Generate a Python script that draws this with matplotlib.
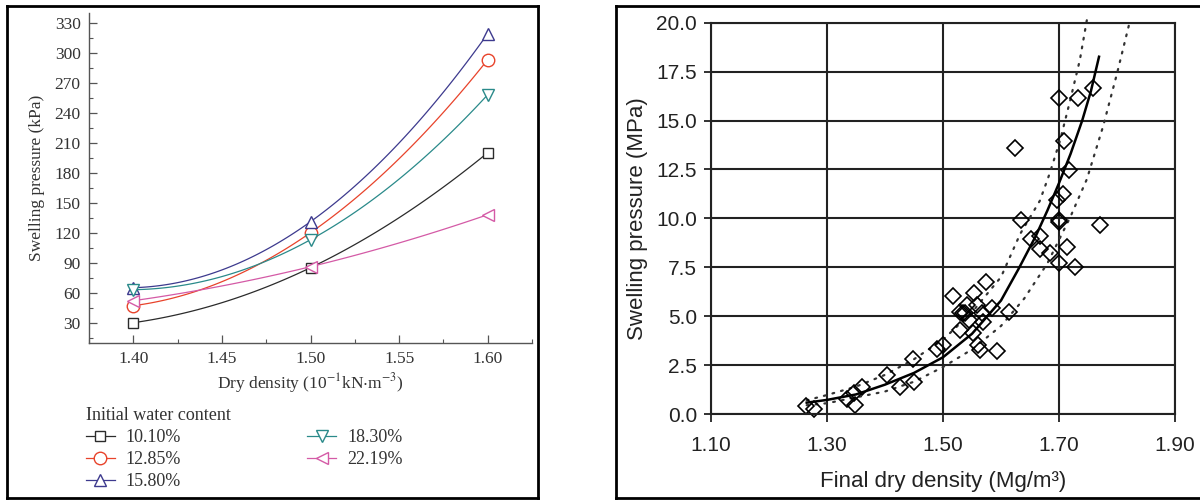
import numpy as np
import matplotlib
matplotlib.use("Agg")
import matplotlib.pyplot as plt
from matplotlib.lines import Line2D

plt.rcParams['mathtext.fontset'] = 'stix'

# ─── Left panel data: swelling pressure vs dry density ───
density = [1.40, 1.50, 1.60]
labels = ['10.10%', '12.85%', '15.80%', '18.30%', '22.19%']
p_1010 = [30, 85, 200]
p_1285 = [47, 120, 293]
p_1580 = [65, 131, 319]
p_1830 = [63, 113, 258]
p_2219 = [52, 86, 138]
series = [p_1010, p_1285, p_1580, p_1830, p_2219]
colors = ['#2b2b2b', '#e8432b', '#3d3a8e', '#2a8a8a', '#d45aa6']
markers = ['s', 'o', '^', 'v', '<']

# ─── Right panel data: measured points + fitted curve and bounds ───
dd_x = [1.264, 1.278, 1.335, 1.347, 1.348, 1.361, 1.403, 1.426, 1.450, 1.449,
        1.490, 1.500, 1.517, 1.529, 1.529, 1.534, 1.538, 1.541, 1.544, 1.552,
        1.554, 1.558, 1.560, 1.564, 1.568, 1.569, 1.574, 1.584, 1.593, 1.613,
        1.624, 1.634, 1.651, 1.667, 1.668, 1.684, 1.697, 1.700, 1.700, 1.700,
        1.700, 1.707, 1.709, 1.714, 1.717, 1.728, 1.732, 1.758, 1.770]
sp_y = [0.42, 0.27, 0.78, 1.06, 0.47, 1.38, 1.99, 1.40, 1.62, 2.80,
        3.32, 3.53, 6.03, 5.23, 4.29, 5.14, 5.14, 5.57, 4.80, 4.12,
        6.17, 5.57, 3.53, 3.27, 5.14, 4.72, 6.76, 5.40, 3.22, 5.20,
        13.58, 9.91, 8.93, 9.11, 8.41, 8.24, 10.92, 9.91, 9.80, 16.13,
        7.73, 11.23, 13.97, 8.55, 12.47, 7.53, 16.13, 16.64, 9.64]
fit_x = [1.265, 1.30, 1.35, 1.40, 1.45, 1.50, 1.55, 1.60, 1.63, 1.66,
         1.68, 1.70, 1.72, 1.74, 1.755, 1.769]
fit_y = [0.58, 0.72, 1.0, 1.5, 2.1, 2.9, 4.1, 5.8, 7.4, 9.1,
         10.4, 11.8, 13.3, 15.0, 16.5, 18.26]
up_x = [1.265, 1.30, 1.35, 1.40, 1.45, 1.50, 1.55, 1.60, 1.633, 1.667,
        1.684, 1.702, 1.719, 1.736, 1.749]
up_y = [0.7, 0.97, 1.4, 2.0, 2.8, 3.8, 5.2, 7.0, 9.2, 10.9,
        12.3, 14.0, 16.0, 18.1, 20.3]
lo_x = [1.265, 1.30, 1.40, 1.45, 1.50, 1.55, 1.60, 1.64, 1.68, 1.72,
        1.748, 1.776, 1.80, 1.822]
lo_y = [0.45, 0.55, 1.15, 1.65, 2.4, 3.3, 4.5, 5.9, 7.7, 10.1,
        12.0, 14.7, 17.4, 20.05]

W, H = 1200, 504
fig = plt.figure(figsize=(W / 100, H / 100), dpi=100)


def fx(px):
    return px / W


def fy(py):
    return 1 - py / H


# panel frames
for x0, x1 in [(7, 538), (616, 1210)]:
    kw = dict(transform=fig.transFigure, color='black', lw=2.0)
    fig.add_artist(Line2D([fx(x0), fx(x1)], [fy(6), fy(6)], **kw))
    fig.add_artist(Line2D([fx(x0), fx(x1)], [fy(498), fy(498)], **kw))
    fig.add_artist(Line2D([fx(x0), fx(x0)], [fy(6), fy(498)], **kw))
    if x1 < W:
        fig.add_artist(Line2D([fx(x1), fx(x1)], [fy(6), fy(498)], **kw))

# ─── Left panel ───
serif = 'Liberation Serif'
ax1 = fig.add_axes([fx(89), fy(342.7), fx(532 - 89), (342.7 - 13.3) / H])
xs = np.linspace(1.40, 1.60, 100)
for lab, vals, c, m in zip(labels, series, colors, markers):
    coef = np.polyfit(density, vals, 2)
    ax1.plot(xs, np.polyval(coef, xs), color=c, lw=0.9)
    ax1.plot(density, vals, ls='none', marker=m, ms=9 if m != 's' else 7.5,
             mfc='white', mec=c, mew=1.0)
handles = [Line2D([], [], color=c, lw=0.9, marker=m,
                  ms=9 if m != 's' else 7.5,
                  mfc='white', mec=c, mew=1.0)
           for c, m in zip(colors, markers)]

ax1.set_xlim(1.375, 1.625)
ax1.set_ylim(10, 339.4)
ax1.set_xticks([1.40, 1.45, 1.50, 1.55, 1.60])
ax1.set_xticks(np.arange(1.375, 1.63, 0.025), minor=True)
ax1.set_yticks(np.arange(30, 331, 30))
ax1.set_yticks(np.arange(15, 340, 15), minor=True)
ax1.set_xticklabels(['1.40', '1.45', '1.50', '1.55', '1.60'])
for s in ['top', 'right']:
    ax1.spines[s].set_visible(False)
for s in ['left', 'bottom']:
    ax1.spines[s].set_color('#555555')
    ax1.spines[s].set_linewidth(1.0)
ax1.tick_params(which='major', direction='in', length=5.5, width=0.9,
                color='#555555', labelsize=12.5, pad=6)
ax1.tick_params(which='minor', direction='in', length=3, width=0.8,
                color='#555555')
for t in ax1.get_xticklabels() + ax1.get_yticklabels():
    t.set_family(serif)
    t.set_color('#333333')
ax1.set_xlabel(r'Dry density (10$^{-1}$kN$\cdot$m$^{-3}$)', family=serif,
               fontsize=12.5, color='#333333', labelpad=3)
ax1.set_ylabel('Swelling pressure (kPa)', family=serif, fontsize=12.5,
               color='#333333', labelpad=7)

leg = fig.legend(handles, labels, loc='upper left', ncol=2,
                 bbox_to_anchor=(fx(86), fy(407)), frameon=False,
                 title='Initial water content', alignment='left',
                 prop={'family': serif, 'size': 13},
                 title_fontproperties={'family': serif, 'size': 13},
                 handlelength=1.6, handletextpad=0.6, columnspacing=7.0,
                 labelspacing=0.28, borderpad=0.0, borderaxespad=0.0)
for t in leg.get_texts():
    t.set_color('#333333')
leg.get_title().set_color('#333333')

# ─── Right panel ───
sans = 'Liberation Sans'
ax2 = fig.add_axes([fx(711), fy(414), fx(1175 - 711), (414 - 22.7) / H])
ax2.plot(up_x, up_y, color='#333333', lw=1.6, ls=(0, (0.8, 3.2)),
         clip_on=False, dash_capstyle='round')
ax2.plot(lo_x, lo_y, color='#333333', lw=1.6, ls=(0, (0.8, 3.2)),
         clip_on=False, dash_capstyle='round')
ax2.plot(fit_x, fit_y, color='black', lw=1.8, clip_on=False)
ax2.plot(dd_x, sp_y, ls='none', marker='D', ms=8, mfc='none', mec='black',
         mew=1.2, clip_on=False)

ax2.set_xlim(1.10, 1.90)
ax2.set_ylim(0, 20)
ax2.set_xticks([1.10, 1.30, 1.50, 1.70, 1.90])
ax2.set_xticklabels(['1.10', '1.30', '1.50', '1.70', '1.90'])
ax2.set_yticks(np.arange(0, 20.1, 2.5))
ax2.set_yticklabels([f'{v:.1f}' for v in np.arange(0, 20.1, 2.5)])
ax2.grid(True, color='#222222', lw=1.5)
ax2.set_axisbelow(True)
for s in ax2.spines.values():
    s.set_color('#222222')
    s.set_linewidth(1.5)
ax2.tick_params(direction='out', length=5, width=1.3, color='#222222',
                labelsize=15, pad=5)
ax2.tick_params(axis='x', length=6, pad=10)
for t in ax2.get_xticklabels() + ax2.get_yticklabels():
    t.set_family(sans)
    t.set_color('#222222')
ax2.set_xlabel('Final dry density (Mg/m³)', family=sans, fontsize=16,
               color='#222222', labelpad=11)
ax2.set_ylabel('Swelling pressure (MPa)', family=sans, fontsize=16,
               color='#222222', labelpad=6)

fig.savefig('out.png', dpi=100)
